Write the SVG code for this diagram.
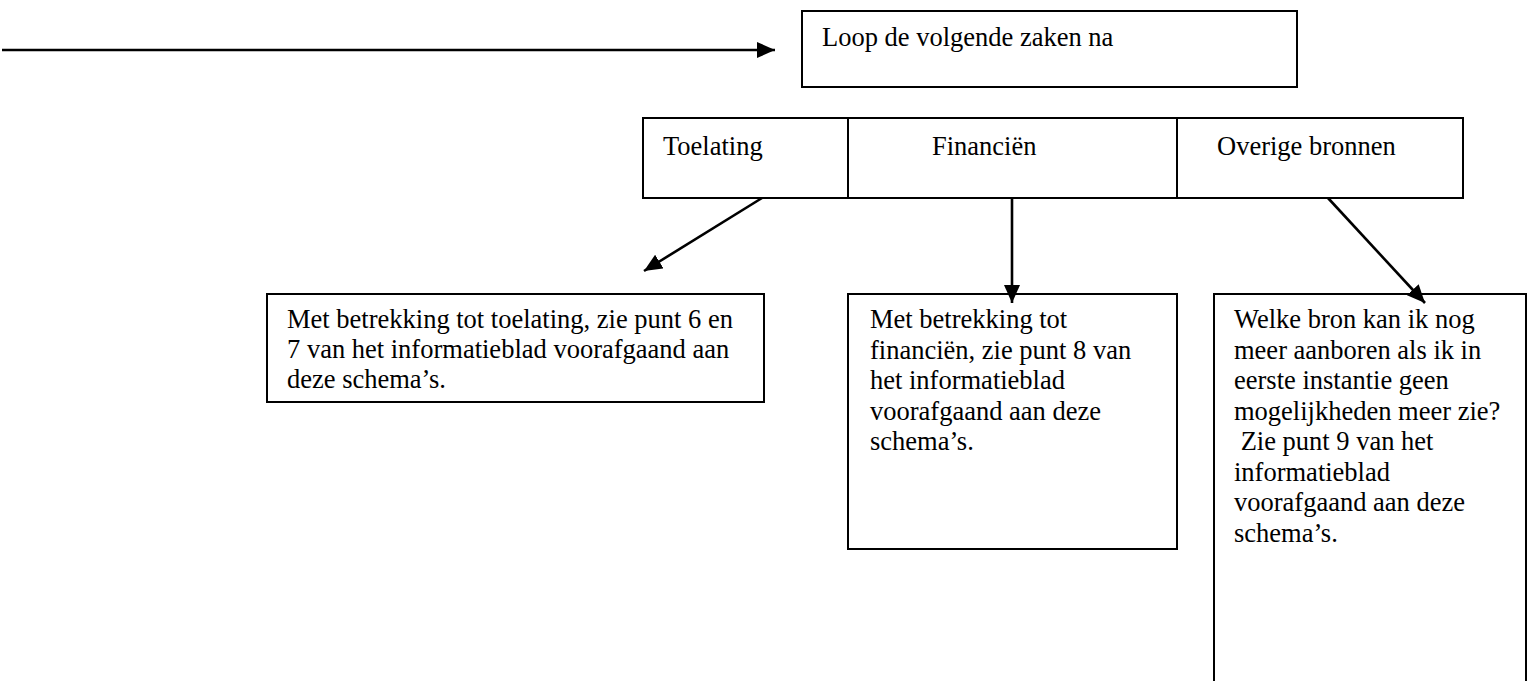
<svg xmlns="http://www.w3.org/2000/svg" width="1529" height="681" viewBox="0 0 1529 681">
<defs>
<style>
.box{fill:#fff;stroke:#000;stroke-width:2}
.t{font-family:"Liberation Serif","Times New Roman",serif;font-size:26.5px;fill:#000;white-space:pre}
.c{stroke:#000;stroke-width:2.6;fill:none}
</style>
<marker id="ah" viewBox="0 0 18 16" refX="18" refY="8" markerWidth="18" markerHeight="16" markerUnits="userSpaceOnUse" orient="auto">
<path d="M0,0 L18,8 L0,16 Z" fill="#000"/>
</marker>
</defs>
<rect width="1529" height="681" fill="#fff"/>
<g id="header">
<rect class="box" x="802" y="11" width="495" height="76"/>
<text class="t" x="822" y="46">Loop de volgende zaken na</text>
</g>
<g id="row">
<rect class="box" x="643" y="118" width="820" height="80"/>
<line x1="848" y1="118" x2="848" y2="198" stroke="#000" stroke-width="2"/>
<line x1="1177" y1="118" x2="1177" y2="198" stroke="#000" stroke-width="2"/>
</g>
<g id="toelating">
<text class="t" x="663" y="155">Toelating</text>
</g>
<g id="financien">
<text class="t" x="932" y="155">Financiën</text>
</g>
<g id="overige">
<text class="t" x="1217" y="155">Overige bronnen</text>
</g>
<g id="box-toelating">
<rect class="box" x="267" y="294" width="497" height="108"/>
<text class="t" x="287" y="328">Met betrekking tot toelating, zie punt 6 en</text>
<text class="t" x="287" y="358">7 van het informatieblad voorafgaand aan</text>
<text class="t" x="287" y="388">deze schema’s.</text>
</g>
<g id="box-financien">
<rect class="box" x="848" y="294" width="329" height="255"/>
<text class="t" x="870" y="328">Met betrekking tot</text>
<text class="t" x="870" y="358.5">financiën, zie punt 8 van</text>
<text class="t" x="870" y="389">het informatieblad</text>
<text class="t" x="870" y="419.5">voorafgaand aan deze</text>
<text class="t" x="870" y="450">schema’s.</text>
</g>
<g id="box-overige">
<rect class="box" x="1214" y="294" width="312" height="400"/>
<text class="t" x="1234" y="328">Welke bron kan ik nog</text>
<text class="t" x="1234" y="358.5">meer aanboren als ik in</text>
<text class="t" x="1234" y="389">eerste instantie geen</text>
<text class="t" x="1234" y="419.5">mogelijkheden meer zie?</text>
<text class="t" x="1234" y="450"> Zie punt 9 van het</text>
<text class="t" x="1234" y="480.5">informatieblad</text>
<text class="t" x="1234" y="511">voorafgaand aan deze</text>
<text class="t" x="1234" y="541.5">schema’s.</text>
</g>
<g id="connectors">
<line class="c" x1="2" y1="50" x2="775" y2="50" marker-end="url(#ah)"/>
<line class="c" x1="762" y1="198" x2="644" y2="271" marker-end="url(#ah)"/>
<line class="c" x1="1012" y1="198" x2="1012" y2="303" marker-end="url(#ah)"/>
<line class="c" x1="1328" y1="198" x2="1425" y2="303" marker-end="url(#ah)"/>
</g>
</svg>
